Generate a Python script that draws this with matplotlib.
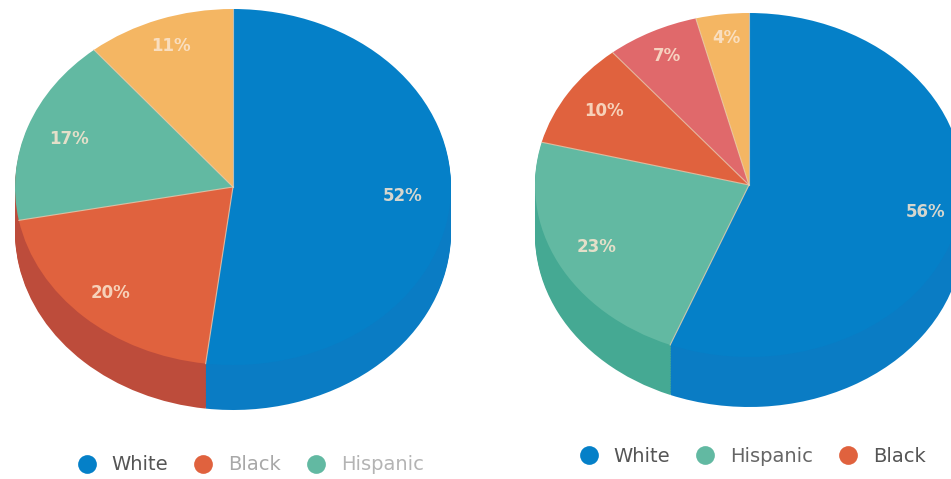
import numpy as np
from matplotlib import pyplot as plt
from matplotlib.lines import Line2D

W, H = 951, 479

left_groups = ["White", "Black", "Hispanic", "Other"]
left_values = [52, 20, 17, 11]
right_groups = ["White", "Hispanic", "Black", "Asian", "Other"]
right_values = [56, 23, 10, 7, 4]

left_legend = ["White", "Black", "Hispanic"]
right_legend = ["White", "Hispanic", "Black"]

TOP_COLORS = {
    "White": "#0580c8",
    "Black": "#e0623e",
    "Hispanic": "#62b9a2",
    "Asian": "#e0696b",
    "Other": "#f4b663",
}
SIDE_COLORS = {
    "White": "#0a7cc4",
    "Black": "#bd4c3b",
    "Hispanic": "#45a993",
    "Asian": "#c4565a",
    "Other": "#dc9c4c",
}


def draw_pie(fig, groups, values, cx, cy, rx, ry, depth, label_dists, side_override=None):
    """Draw a tilted pie: cx, cy, rx, ry and depth are in pixels of the figure."""
    ax = fig.add_axes([(cx - rx) / W, 1 - (cy + ry + depth) / H,
                       2 * rx / W, (2 * ry + depth) / H])
    top = [TOP_COLORS[g] for g in groups]
    side_colors = {**SIDE_COLORS, **(side_override or {})}
    side = [side_colors[g] for g in groups]
    offset = depth / ry

    # Stack of darker pies makes the side of the disc.
    for d in np.linspace(offset, 0.01, 30):
        ax.pie(values, colors=side, startangle=90, counterclock=False,
               center=(0, -d), radius=1, frame=True,
               wedgeprops={"linewidth": 0})

    wedges, _, pcts = ax.pie(
        values,
        colors=top,
        startangle=90,
        counterclock=False,
        radius=1,
        frame=True,
        autopct="%.0f%%",
        pctdistance=0.8,
        wedgeprops={"linewidth": 0},
    )

    # Thin light seams between the slices, none on the rim.
    for wedge in wedges:
        angle = np.deg2rad(wedge.theta2)
        ax.plot([0, np.cos(angle)], [0, np.sin(angle)],
                color="#e9cdb0", lw=0.8, alpha=0.8)

    for t, dist in zip(pcts, label_dists):
        x, y = t.get_position()
        t.set_position((x / 0.8 * dist, y / 0.8 * dist))
        t.set_color("#fbe6d0")
        t.set_alpha(0.85)
        t.set_fontsize(12)
        t.set_fontweight("bold")

    ax.set_aspect("auto")
    ax.set_xlim(-1, 1)
    ax.set_ylim(-1 - offset, 1)
    ax.axis("off")
    return ax


def draw_legend(fig, names, x, y, text_colors, spacing):
    handles = [
        Line2D([], [], linestyle="none", marker="o", markersize=13.5,
               markerfacecolor=TOP_COLORS[n], markeredgewidth=0)
        for n in names
    ]
    legend = fig.legend(
        handles,
        names,
        ncol=len(names),
        loc="center left",
        bbox_to_anchor=(x / W, 1 - y / H),
        frameon=False,
        fontsize=14,
        handletextpad=0.28,
        columnspacing=spacing,
    )
    for text, color in zip(legend.get_texts(), text_colors):
        text.set_color(color)


fig = plt.figure(figsize=(W / 100, H / 100), dpi=100)
plt.rcParams["font.family"] = ["DejaVu Sans"]

draw_pie(fig, left_groups, left_values, 233, 187, 218, 178, 45,
         [0.78, 0.82, 0.8, 0.84], {"Hispanic": SIDE_COLORS["Black"]})
draw_pie(fig, right_groups, right_values, 749, 185, 214, 172, 50,
         [0.84, 0.80, 0.8, 0.84, 0.86])

draw_legend(fig, left_legend, 50, 465, ["#555555", "#a8a8a8", "#b4b4b4"], 0.8)
draw_legend(fig, right_legend, 552, 456, ["#555555", "#666666", "#555555"], 0.8)

fig.savefig("out.png", dpi=100)
plt.close(fig)
